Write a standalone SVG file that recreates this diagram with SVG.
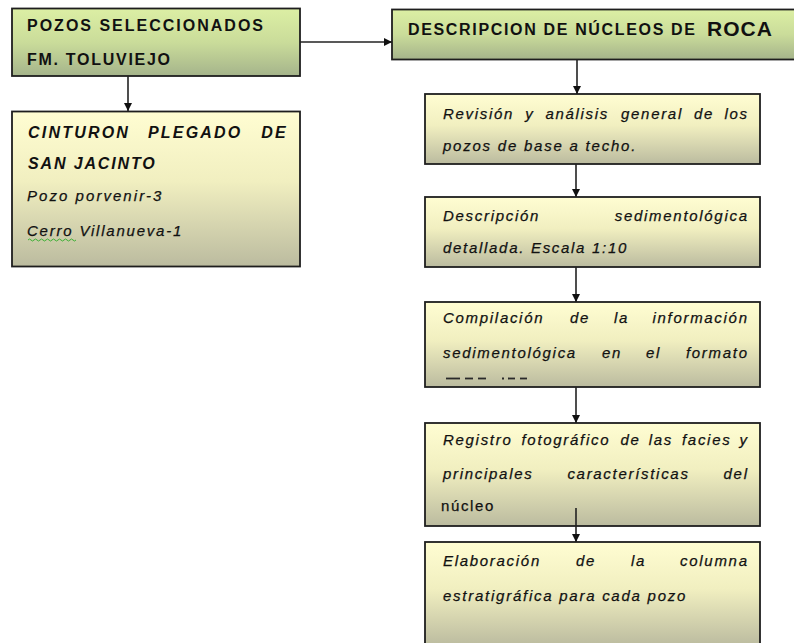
<svg xmlns="http://www.w3.org/2000/svg" width="794" height="643" viewBox="0 0 794 643">
<defs>
<linearGradient id="gGreen" x1="0" y1="0" x2="0" y2="1">
<stop offset="0" stop-color="#dcefa4"/>
<stop offset="0.5" stop-color="#cadc9a"/>
<stop offset="1" stop-color="#a5b48b"/>
</linearGradient>
<linearGradient id="gYellow" x1="0" y1="0" x2="0" y2="1">
<stop offset="0" stop-color="#fffdd2"/>
<stop offset="0.45" stop-color="#f1efc0"/>
<stop offset="1" stop-color="#bbbb9f"/>
</linearGradient>
<marker id="arr" markerWidth="8" markerHeight="8" refX="8" refY="4" orient="auto" markerUnits="userSpaceOnUse">
<path d="M0,0 L8,4 L0,8 Z" fill="#111"/>
</marker>
<style>
.green{fill:url(#gGreen);stroke:#1e1e1e;stroke-width:1.8}
.yel{fill:url(#gYellow);stroke:#1e1e1e;stroke-width:1.8}
text{font-family:"Liberation Sans",Arial,sans-serif;fill:#111}
.b{font-size:16px;font-weight:bold}
.bi{font-size:16px;font-weight:bold;font-style:italic;letter-spacing:2.2px}
.it{font-size:15px;font-style:italic;letter-spacing:1.7px;stroke:#111;stroke-width:0.25}
.rg{font-size:15px;letter-spacing:1.7px;stroke:#111;stroke-width:0.25}
.con{stroke:#222;stroke-width:1.6;fill:none;marker-end:url(#arr)}
</style>
</defs>

<g id="node-pozos">
<rect class="green" x="12" y="8.5" width="288" height="67.5"/>
<text class="b" x="27" y="31" textLength="236" lengthAdjust="spacing">POZOS SELECCIONADOS</text>
<text class="b" x="27" y="65" textLength="143" lengthAdjust="spacing">FM. TOLUVIEJO</text>
</g>

<g id="node-cinturon">
<rect class="yel" x="12" y="111.5" width="288" height="155"/>
<text class="bi" x="28" y="138">CINTURON</text>
<text class="bi" x="148" y="138">PLEGADO</text>
<text class="bi" x="288" y="138" text-anchor="end">DE</text>
<text class="bi" x="28" y="169" textLength="129" lengthAdjust="spacing">SAN JACINTO</text>
<text class="it" x="27" y="201" textLength="136" lengthAdjust="spacing">Pozo porvenir-3</text>
<text class="it" x="27" y="236" textLength="156" lengthAdjust="spacing">Cerro Villanueva-1</text>
<path d="M28,240 q1.5,-2 3,0 t3,0 t3,0 t3,0 t3,0 t3,0 t3,0 t3,0 t3,0 t3,0 t3,0 t3,0 t3,0 t3,0 t3,0 t3,0" fill="none" stroke="#3cb034" stroke-width="1"/>
</g>

<g id="node-descripcion-nucleos">
<rect class="green" x="392" y="9.5" width="410" height="50"/>
<text class="b" x="408" y="35" textLength="287" lengthAdjust="spacing">DESCRIPCION DE NÚCLEOS DE</text>
<text class="b" x="707" y="36" style="font-size:21px" textLength="65" lengthAdjust="spacing">ROCA</text>
</g>

<g id="node-revision">
<rect class="yel" x="425" y="94" width="335" height="70"/>
<text class="it" x="443" y="119">Revisión</text>
<text class="it" x="525.3" y="119">y</text>
<text class="it" x="545.4" y="119">análisis</text>
<text class="it" x="621" y="119">general</text>
<text class="it" x="694" y="119">de</text>
<text class="it" x="748.7" y="119" text-anchor="end">los</text>
<text class="it" x="443" y="151" textLength="194" lengthAdjust="spacing">pozos de base a techo.</text>
</g>

<g id="node-descripcion-sed">
<rect class="yel" x="425" y="197" width="335" height="70"/>
<text class="it" x="443" y="221">Descripción</text>
<text class="it" x="748.7" y="221" text-anchor="end">sedimentológica</text>
<text class="it" x="443" y="253" textLength="185" lengthAdjust="spacing">detallada. Escala 1:10</text>
</g>

<g id="node-compilacion">
<rect class="yel" x="425" y="302" width="335" height="85"/>
<text class="it" x="443" y="323">Compilación</text>
<text class="it" x="570" y="323">de</text>
<text class="it" x="614" y="323">la</text>
<text class="it" x="748.7" y="323" text-anchor="end">información</text>
<text class="it" x="443" y="358">sedimentológica</text>
<text class="it" x="602" y="358">en</text>
<text class="it" x="646" y="358">el</text>
<text class="it" x="748.7" y="358" text-anchor="end">formato</text>
<g stroke="#2a2a2a" stroke-width="1.8">
<line x1="446" y1="378.5" x2="460" y2="378.5"/>
<line x1="465" y1="378.5" x2="473" y2="378.5"/>
<line x1="478" y1="378.5" x2="486" y2="378.5"/>
<line x1="502" y1="378.5" x2="504" y2="378.5"/>
<line x1="508" y1="378.5" x2="515" y2="378.5"/>
<line x1="520" y1="378.5" x2="527" y2="378.5"/>
</g>
</g>

<g id="node-registro">
<rect class="yel" x="425" y="423" width="335" height="103"/>
<text class="it" x="443" y="445">Registro</text>
<text class="it" x="521.5" y="445">fotográfico</text>
<text class="it" x="620.4" y="445">de</text>
<text class="it" x="648.8" y="445">las</text>
<text class="it" x="682" y="445">facies</text>
<text class="it" x="748.7" y="445" text-anchor="end">y</text>
<text class="it" x="443" y="479">principales</text>
<text class="it" x="567.4" y="479">características</text>
<text class="it" x="748.7" y="479" text-anchor="end">del</text>
<text class="rg" x="441" y="511" textLength="54" lengthAdjust="spacing">núcleo</text>
</g>

<g id="node-elaboracion">
<rect class="yel" x="425" y="542" width="335" height="104"/>
<text class="it" x="443" y="566">Elaboración</text>
<text class="it" x="576" y="566">de</text>
<text class="it" x="631" y="566">la</text>
<text class="it" x="748.7" y="566" text-anchor="end">columna</text>
<text class="it" x="443" y="601" textLength="244" lengthAdjust="spacing">estratigráfica para cada pozo</text>
</g>

<g id="connectors">
<line class="con" x1="128" y1="76" x2="128" y2="111"/>
<line class="con" x1="300" y1="42" x2="392" y2="42"/>
<line class="con" x1="577" y1="59.5" x2="577" y2="94"/>
<line class="con" x1="576" y1="164" x2="576" y2="197"/>
<line class="con" x1="576" y1="267" x2="576" y2="302"/>
<line class="con" x1="576" y1="387" x2="576" y2="423"/>
<line class="con" x1="576" y1="508" x2="576" y2="542"/>
</g>
</svg>
